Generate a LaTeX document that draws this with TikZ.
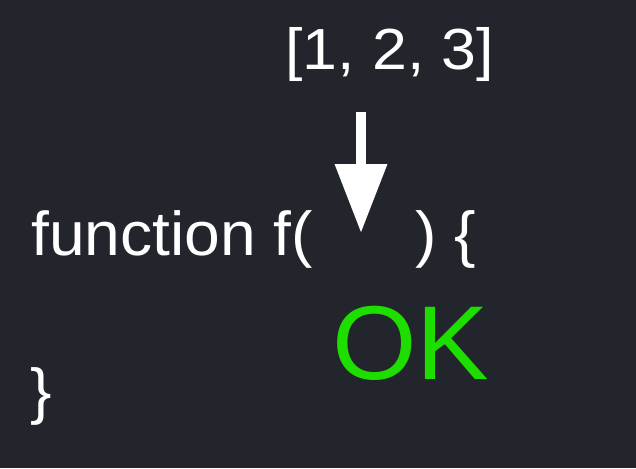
\documentclass[tikz,border=0pt]{standalone}
\usepackage{fontspec}
\setmainfont{Liberation Sans}
\usetikzlibrary{arrows.meta}
\definecolor{bg}{RGB}{34,37,44}
\definecolor{okgreen}{RGB}{30,222,0}
\newcommand{\wide}[2]{\scalebox{#1}[1]{#2}}
\begin{document}
\begin{tikzpicture}[x=1pt,y=-1pt,
  txt/.style={inner sep=0pt, anchor=base west, text=white},
  bigarrow/.style={draw=white, line width=10pt, -{Triangle[width=50pt,length=69pt]}}]
\fill[bg] (0,0) rectangle (636,468);
\useasboundingbox (0,0) rectangle (636,468);
\node[txt, font=\fontsize{58}{64}\selectfont] (list) at (285,70) {\wide{1.08}{[1, 2, 3]}};
\node[txt, font=\fontsize{62}{70}\selectfont] (head) at (31,255) {\wide{1.035}{function f(}};
\node[txt, font=\fontsize{62}{70}\selectfont] (close) at (415,255) {\wide{1.035}{) \{}};
\node[txt, font=\fontsize{62}{70}\selectfont] (brace) at (30,412) {\wide{1.035}{\}}};
\node[txt, text=okgreen, font=\fontsize{105}{110}\selectfont] (ok) at (332,379) {\wide{1.035}{OK}};
\coordinate (src) at (361,112);
\coordinate (dst) at (361,233);
\draw[bigarrow] (src) -- (dst);
\end{tikzpicture}
\end{document}
